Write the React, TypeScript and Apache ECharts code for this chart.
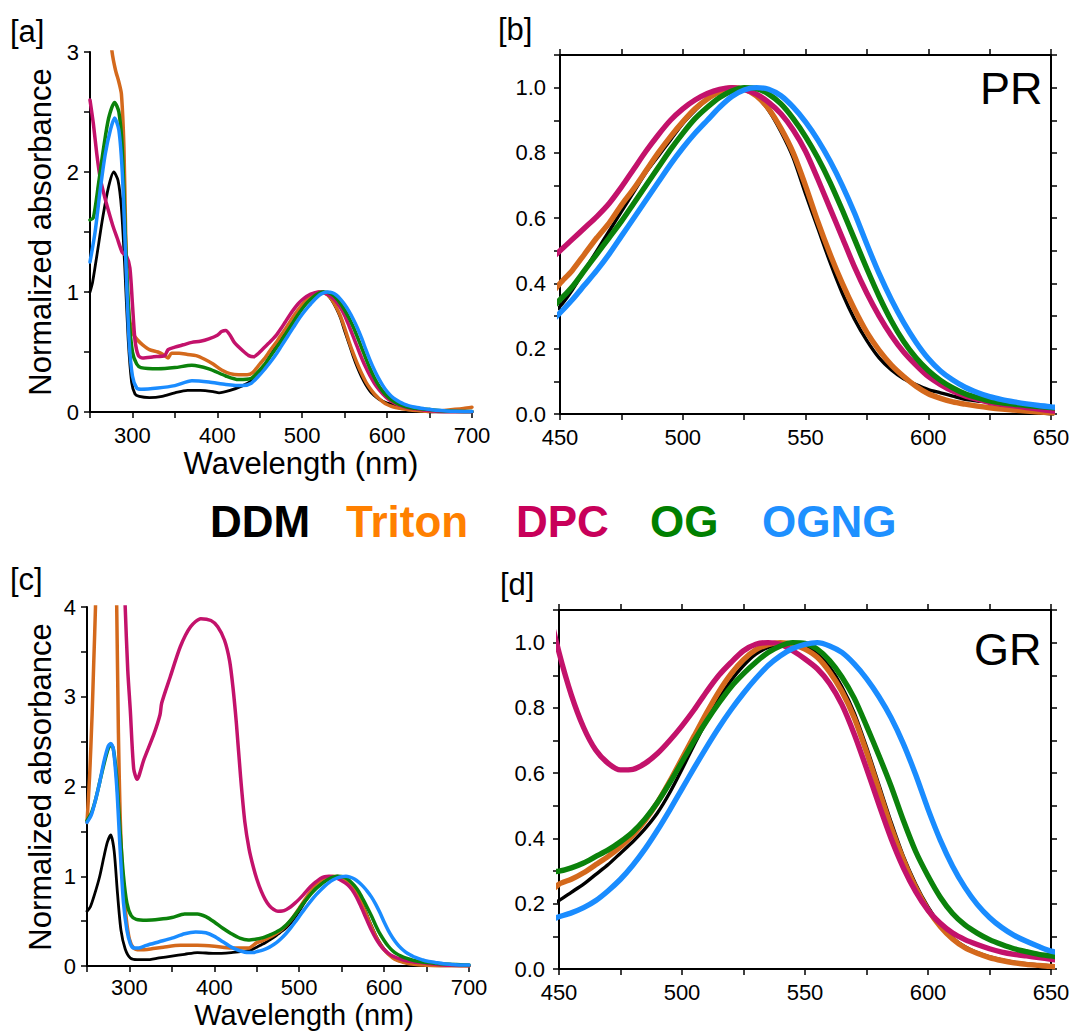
import React, { useEffect, useRef } from "react";
import * as echarts from "echarts";

const FONT = "'Liberation Sans', Arial, Helvetica, sans-serif";

const NAMES = ["DDM", "Triton", "DPC", "OG", "OGNG"];
const LINE_COLORS = ["#000000", "#d4691c", "#c3126b", "#0b820b", "#1a8cff"];
const LEGEND_COLORS = ["#000000", "#ff8000", "#c8005a", "#008000", "#1e90ff"];

// visible-band wavelength grid (nm)
const VIS_WL = [450, 455, 460, 465, 470, 475, 480, 485, 490, 495, 500, 505, 510, 515, 520, 525, 530, 535, 540, 545, 550, 555, 560, 565, 570, 575, 580, 585, 590, 595, 600, 605, 610, 615, 620, 625, 630, 635, 640, 645, 650];
const TAIL_WL = [660, 670, 680, 690, 700];

// ---------- PR ----------
const PR_DDM_UV = [[250, 1.0], [253, 1.08], [258, 1.3], [265, 1.62], [272, 1.88], [278, 2.0], [283, 1.93], [287, 1.7], [291, 1.2], [295, 0.6], [299, 0.25], [303, 0.15], [308, 0.13], [320, 0.12], [335, 0.13], [350, 0.16], [365, 0.18], [380, 0.18], [395, 0.17], [402, 0.16], [415, 0.18], [430, 0.22], [440, 0.26]];
const PR_TRITON_UV = [[272, 3.3], [276, 3.0], [280, 2.85], [284, 2.75], [287, 2.65], [290, 2.2], [292, 1.5], [294, 1.0], [297, 0.75], [301, 0.65], [306, 0.6], [312, 0.56], [320, 0.52], [330, 0.5], [338, 0.47], [342, 0.45], [346, 0.49], [355, 0.49], [365, 0.48], [375, 0.47], [385, 0.44], [395, 0.4], [405, 0.35], [415, 0.32], [425, 0.31], [435, 0.31], [442, 0.33]];
const PR_DPC_UV = [[250, 2.6], [254, 2.4], [258, 2.15], [262, 1.95], [267, 1.8], [272, 1.67], [277, 1.55], [282, 1.45], [288, 1.33], [293, 1.3], [297, 1.2], [300, 0.9], [303, 0.6], [307, 0.47], [312, 0.45], [325, 0.46], [338, 0.47], [342, 0.52], [350, 0.54], [360, 0.56], [370, 0.58], [380, 0.59], [390, 0.61], [400, 0.64], [405, 0.67], [410, 0.68], [415, 0.64], [420, 0.58], [430, 0.51], [437, 0.47], [443, 0.46], [447, 0.48]];
const PR_OG_UV = [[250, 1.6], [254, 1.62], [260, 1.9], [266, 2.2], [272, 2.45], [279, 2.58], [284, 2.5], [288, 2.2], [292, 1.4], [296, 0.8], [300, 0.5], [305, 0.4], [310, 0.37], [330, 0.36], [350, 0.37], [370, 0.39], [390, 0.36], [410, 0.3], [425, 0.27], [440, 0.28]];
const PR_OGNG_UV = [[250, 1.25], [256, 1.5], [262, 1.85], [268, 2.15], [274, 2.35], [279, 2.45], [284, 2.35], [288, 2.0], [292, 1.3], [296, 0.6], [300, 0.3], [305, 0.2], [310, 0.19], [330, 0.2], [350, 0.22], [370, 0.26], [390, 0.25], [410, 0.23], [430, 0.22], [440, 0.24]];

const PR_DDM_VIS = [0.33, 0.38, 0.44, 0.5, 0.56, 0.62, 0.68, 0.74, 0.79, 0.84, 0.89, 0.93, 0.965, 0.985, 0.998, 1.0, 0.975, 0.93, 0.865, 0.785, 0.675, 0.57, 0.465, 0.37, 0.29, 0.225, 0.172, 0.135, 0.108, 0.09, 0.075, 0.065, 0.055, 0.045, 0.04, 0.035, 0.025, 0.018, 0.01, 0.005, 0.0];
const PR_TRITON_VIS = [0.4, 0.44, 0.49, 0.54, 0.585, 0.64, 0.69, 0.745, 0.8, 0.85, 0.895, 0.935, 0.965, 0.988, 1.0, 0.995, 0.975, 0.935, 0.875, 0.8, 0.7, 0.59, 0.49, 0.4, 0.32, 0.25, 0.195, 0.15, 0.115, 0.085, 0.062, 0.048, 0.037, 0.03, 0.024, 0.019, 0.015, 0.012, 0.009, 0.006, 0.004];
const PR_DPC_VIS = [0.5, 0.535, 0.57, 0.605, 0.645, 0.695, 0.75, 0.805, 0.855, 0.9, 0.935, 0.962, 0.982, 0.995, 1.0, 0.995, 0.98, 0.955, 0.92, 0.87, 0.805, 0.72, 0.63, 0.54, 0.45, 0.37, 0.3, 0.24, 0.19, 0.15, 0.115, 0.09, 0.07, 0.055, 0.045, 0.035, 0.03, 0.025, 0.02, 0.015, 0.01];
const PR_OG_VIS = [0.35, 0.39, 0.44, 0.49, 0.54, 0.59, 0.645, 0.7, 0.755, 0.81, 0.86, 0.905, 0.94, 0.97, 0.99, 1.0, 0.997, 0.98, 0.95, 0.905, 0.85, 0.785, 0.71, 0.625, 0.535, 0.445, 0.36, 0.285, 0.222, 0.172, 0.133, 0.103, 0.08, 0.062, 0.05, 0.04, 0.034, 0.03, 0.026, 0.023, 0.02];
const PR_OGNG_VIS = [0.31, 0.35, 0.395, 0.44, 0.49, 0.545, 0.6, 0.655, 0.71, 0.765, 0.815, 0.86, 0.9, 0.94, 0.973, 0.993, 1.0, 0.995, 0.975, 0.94, 0.895, 0.84, 0.775, 0.7, 0.615, 0.52, 0.43, 0.35, 0.28, 0.22, 0.17, 0.132, 0.104, 0.082, 0.066, 0.053, 0.044, 0.037, 0.031, 0.026, 0.022];

const PR_DDM_TAIL = [0.0, 0.0, 0.0, 0.0, 0.0];
const PR_TRITON_TAIL = [0.008, 0.015, 0.022, 0.03, 0.04];
const PR_DPC_TAIL = [0.005, 0.003, 0.002, 0.002, 0.002];
const PR_OG_TAIL = [0.012, 0.008, 0.006, 0.005, 0.005];
const PR_OGNG_TAIL = [0.014, 0.009, 0.006, 0.005, 0.005];

// ---------- GR ----------
const GR_DDM_UV = [[250, 0.61], [254, 0.66], [259, 0.8], [265, 1.0], [270, 1.22], [274, 1.38], [278, 1.46], [282, 1.28], [286, 0.8], [290, 0.4], [295, 0.19], [301, 0.09], [309, 0.07], [320, 0.07], [335, 0.09], [350, 0.11], [365, 0.13], [380, 0.15], [400, 0.14], [420, 0.15], [440, 0.17]];
const GR_TRITON_UV = [[250, 1.6], [253, 2.1], [256, 2.8], [258, 3.4], [260, 4.0], [262, 5.0], [283, 5.0], [285, 4.0], [287, 2.6], [289, 1.7], [292, 1.0], [296, 0.55], [300, 0.3], [305, 0.2], [312, 0.18], [325, 0.19], [340, 0.21], [360, 0.23], [380, 0.23], [400, 0.22], [420, 0.2], [440, 0.2]];
const GR_DPC_UV = [[293, 4.6], [295, 4.0], [298, 3.3], [301, 2.85], [305, 2.2], [309, 2.08], [317, 2.3], [329, 2.59], [336, 2.8], [338, 2.93], [348, 3.22], [360, 3.56], [372, 3.78], [384, 3.87], [396, 3.85], [404, 3.78], [412, 3.63], [418, 3.4], [422, 3.1], [426, 2.7], [431, 2.1], [436, 1.6], [441, 1.3], [446, 1.1]];
const GR_OG_UV = [[250, 1.62], [255, 1.7], [260, 1.85], [265, 2.05], [270, 2.25], [275, 2.42], [278, 2.47], [281, 2.42], [285, 2.1], [289, 1.5], [293, 1.0], [297, 0.7], [302, 0.56], [308, 0.52], [320, 0.51], [335, 0.52], [350, 0.54], [365, 0.58], [380, 0.58], [390, 0.55], [400, 0.49], [410, 0.42], [420, 0.36], [430, 0.31], [440, 0.29]];
const GR_OGNG_UV = [[250, 1.6], [255, 1.68], [260, 1.85], [265, 2.05], [270, 2.28], [275, 2.45], [278, 2.48], [281, 2.42], [285, 2.0], [289, 1.3], [293, 0.7], [297, 0.4], [301, 0.25], [305, 0.2], [310, 0.2], [320, 0.23], [335, 0.27], [350, 0.31], [365, 0.36], [378, 0.38], [390, 0.37], [400, 0.33], [410, 0.27], [420, 0.21], [430, 0.17], [440, 0.15], [446, 0.15]];

const GR_DDM_VIS = [0.21, 0.235, 0.26, 0.29, 0.32, 0.355, 0.39, 0.43, 0.478, 0.54, 0.612, 0.688, 0.76, 0.828, 0.885, 0.93, 0.965, 0.985, 0.997, 1.0, 0.99, 0.965, 0.925, 0.865, 0.785, 0.68, 0.565, 0.45, 0.345, 0.26, 0.19, 0.135, 0.095, 0.068, 0.05, 0.037, 0.028, 0.021, 0.016, 0.012, 0.01];
const GR_TRITON_VIS = [0.26, 0.275, 0.295, 0.32, 0.345, 0.375, 0.41, 0.455, 0.51, 0.575, 0.645, 0.715, 0.785, 0.85, 0.905, 0.948, 0.978, 0.994, 1.0, 0.995, 0.98, 0.955, 0.91, 0.85, 0.77, 0.665, 0.55, 0.435, 0.335, 0.25, 0.182, 0.13, 0.092, 0.065, 0.048, 0.035, 0.026, 0.019, 0.014, 0.011, 0.008];
const GR_DPC_VIS = [0.97, 0.84, 0.74, 0.67, 0.63, 0.61, 0.612, 0.63, 0.66, 0.7, 0.745, 0.795, 0.85, 0.9, 0.94, 0.975, 0.995, 1.0, 0.995, 0.975, 0.95, 0.92, 0.875, 0.81, 0.72, 0.615, 0.505, 0.4, 0.31, 0.237, 0.18, 0.14, 0.11, 0.09, 0.075, 0.062, 0.052, 0.045, 0.04, 0.035, 0.03];
const GR_OG_VIS = [0.3, 0.31, 0.325, 0.345, 0.365, 0.39, 0.42, 0.46, 0.51, 0.57, 0.635, 0.7, 0.76, 0.815, 0.865, 0.905, 0.94, 0.97, 0.99, 1.0, 0.998, 0.98, 0.945, 0.895, 0.83, 0.745, 0.655, 0.56, 0.455, 0.36, 0.285, 0.22, 0.17, 0.135, 0.11, 0.09, 0.075, 0.062, 0.053, 0.045, 0.04];
const GR_OGNG_VIS = [0.16, 0.172, 0.188, 0.21, 0.24, 0.275, 0.318, 0.368, 0.425, 0.487, 0.552, 0.617, 0.68, 0.74, 0.795, 0.845, 0.89, 0.93, 0.96, 0.982, 0.995, 1.0, 0.99, 0.97, 0.935, 0.89, 0.835, 0.77, 0.69, 0.595, 0.49, 0.395, 0.315, 0.25, 0.198, 0.158, 0.127, 0.103, 0.085, 0.069, 0.055];

const GR_DDM_TAIL = [0.005, 0.003, 0.002, 0.002, 0.002];
const GR_TRITON_TAIL = [0.004, 0.002, 0.002, 0.001, 0.001];
const GR_DPC_TAIL = [0.02, 0.012, 0.008, 0.005, 0.004];
const GR_OG_TAIL = [0.03, 0.022, 0.018, 0.014, 0.01];
const GR_OGNG_TAIL = [0.04, 0.025, 0.018, 0.012, 0.01];

const PR_UV = [PR_DDM_UV, PR_TRITON_UV, PR_DPC_UV, PR_OG_UV, PR_OGNG_UV];
const PR_VIS = [PR_DDM_VIS, PR_TRITON_VIS, PR_DPC_VIS, PR_OG_VIS, PR_OGNG_VIS];
const PR_TAIL = [PR_DDM_TAIL, PR_TRITON_TAIL, PR_DPC_TAIL, PR_OG_TAIL, PR_OGNG_TAIL];
const GR_UV = [GR_DDM_UV, GR_TRITON_UV, GR_DPC_UV, GR_OG_UV, GR_OGNG_UV];
const GR_VIS = [GR_DDM_VIS, GR_TRITON_VIS, GR_DPC_VIS, GR_OG_VIS, GR_OGNG_VIS];
const GR_TAIL = [GR_DDM_TAIL, GR_TRITON_TAIL, GR_DPC_TAIL, GR_OG_TAIL, GR_OGNG_TAIL];

function spectrum(uv: number[][], vis: number[], tail: number[]) {
  return [
    ...uv,
    ...VIS_WL.map((w, i) => [w, vis[i]]),
    ...TAIL_WL.map((w, i) => [w, tail[i]]),
  ];
}

const AXIS_LINE = { show: true, onZero: false, lineStyle: { color: "#000", width: 2 } };
const LABEL_BASE = { color: "#000", fontSize: 22, fontFamily: FONT };

function xAxisDef(grid: number, min: number, max: number, interval: number, labelStep: number, pos: "bottom" | "top", showLabel: boolean, margin: number) {
  return {
    type: "value",
    gridIndex: grid,
    position: pos,
    min,
    max,
    interval,
    axisLine: AXIS_LINE,
    axisTick: { show: true, inside: false, length: 6, lineStyle: { color: "#000", width: 1.5 } },
    axisLabel: {
      show: showLabel,
      ...LABEL_BASE,
      margin,
      formatter: (v: number) => (v % labelStep === 0 && v !== 250 ? String(v) : ""),
    },
    splitLine: { show: false },
  };
}

function yAxisDef(grid: number, min: number, max: number, interval: number, pos: "left" | "right", showLabel: boolean, decimals: boolean, margin: number) {
  return {
    type: "value",
    gridIndex: grid,
    position: pos,
    min,
    max,
    interval,
    axisLine: AXIS_LINE,
    axisTick: { show: true, inside: false, length: 6, lineStyle: { color: "#000", width: 1.5 } },
    axisLabel: {
      show: showLabel,
      ...LABEL_BASE,
      margin,
      formatter: (v: number) => {
        if (decimals) {
          const r = Math.round(v * 10);
          return r % 2 === 0 && r <= 10 ? (r / 10).toFixed(1) : "";
        }
        return Math.abs(v - Math.round(v)) < 1e-9 ? String(Math.round(v)) : "";
      },
    },
    splitLine: { show: false },
  };
}

function seriesFor(uvs: number[][][], viss: number[][], tails: number[][], xi: number, yi: number, wide: boolean) {
  return NAMES.map((name, k) => ({
    name,
    type: "line",
    xAxisIndex: xi,
    yAxisIndex: yi,
    data: spectrum(uvs[k], viss[k], tails[k]),
    showSymbol: false,
    symbol: "none",
    smooth: 0.25,
    clip: true,
    lineStyle: {
      color: LINE_COLORS[k],
      width: k === 0 ? (wide ? 3.4 : 2.8) : wide ? 5.4 : 3.5,
      cap: "round",
      join: "round",
    },
    z: 2 + k,
  }));
}

function txt(text: string, x: number, y: number, size: number, opts: any = {}) {
  return {
    type: "text",
    x,
    y,
    rotation: opts.rotation || 0,
    style: {
      text,
      fill: opts.color || "#000",
      font: `${opts.bold ? "bold " : ""}${size}px ${FONT}`,
      textAlign: opts.align || "left",
      textVerticalAlign: "middle",
    },
    z: 10,
  };
}

export default function App() {
  const ref = useRef<HTMLDivElement>(null);
  useEffect(() => {
    document.body.style.margin = "0";
    if (!ref.current) return;
    const chart = echarts.init(ref.current, null, { renderer: "svg" });
    const legendX = [210, 346, 516, 650, 762];
    const option: any = {
      animation: false,
      backgroundColor: "#ffffff",
      grid: [
        { left: 90, top: 52, width: 382, height: 360 },
        { left: 560, top: 55, width: 491, height: 359 },
        { left: 87, top: 607, width: 382, height: 359 },
        { left: 559, top: 610, width: 492, height: 359 },
      ],
      xAxis: [
        xAxisDef(0, 250, 700, 50, 100, "bottom", true, 12),
        xAxisDef(1, 450, 650, 25, 50, "bottom", true, 12),
        xAxisDef(1, 450, 650, 25, 50, "top", false, 12),
        xAxisDef(2, 250, 700, 50, 100, "bottom", true, 10),
        xAxisDef(3, 450, 650, 25, 50, "bottom", true, 12),
        xAxisDef(3, 450, 650, 25, 50, "top", false, 12),
      ],
      yAxis: [
        yAxisDef(0, 0, 3, 0.5, "left", true, false, 11),
        yAxisDef(1, 0, 1.1, 0.1, "left", true, true, 14),
        yAxisDef(1, 0, 1.1, 0.1, "right", false, true, 14),
        yAxisDef(2, 0, 4, 0.5, "left", true, false, 11),
        yAxisDef(3, 0, 1.1, 0.1, "left", true, true, 14),
        yAxisDef(3, 0, 1.1, 0.1, "right", false, true, 14),
      ],
      series: [
        ...seriesFor(PR_UV, PR_VIS, PR_TAIL, 0, 0, false),
        ...seriesFor(PR_UV, PR_VIS, PR_TAIL, 1, 1, true),
        ...seriesFor(GR_UV, GR_VIS, GR_TAIL, 3, 3, false),
        ...seriesFor(GR_UV, GR_VIS, GR_TAIL, 4, 4, true),
      ],
      graphic: [
        txt("[a]", 10, 31, 31),
        txt("[b]", 498, 29, 31),
        txt("[c]", 10, 579, 31),
        txt("[d]", 500, 584, 31),
        txt("PR", 980, 88, 45),
        txt("GR", 974, 649, 45),
        txt("Normalized absorbance", 40, 232, 31, { rotation: Math.PI / 2, align: "center" }),
        txt("Normalized absorbance", 40, 787, 31, { rotation: Math.PI / 2, align: "center" }),
        txt("Wavelength (nm)", 301, 463, 31, { align: "center" }),
        txt("Wavelength (nm)", 304, 1015, 29, { align: "center" }),
        ...NAMES.map((n, k) => txt(n, legendX[k], 521, 44, { bold: true, color: LEGEND_COLORS[k] })),
      ],
    };
    chart.setOption(option);
    return () => chart.dispose();
  }, []);
  return <div ref={ref} style={{ width: 1073, height: 1033, background: "#fff" }} />;
}
